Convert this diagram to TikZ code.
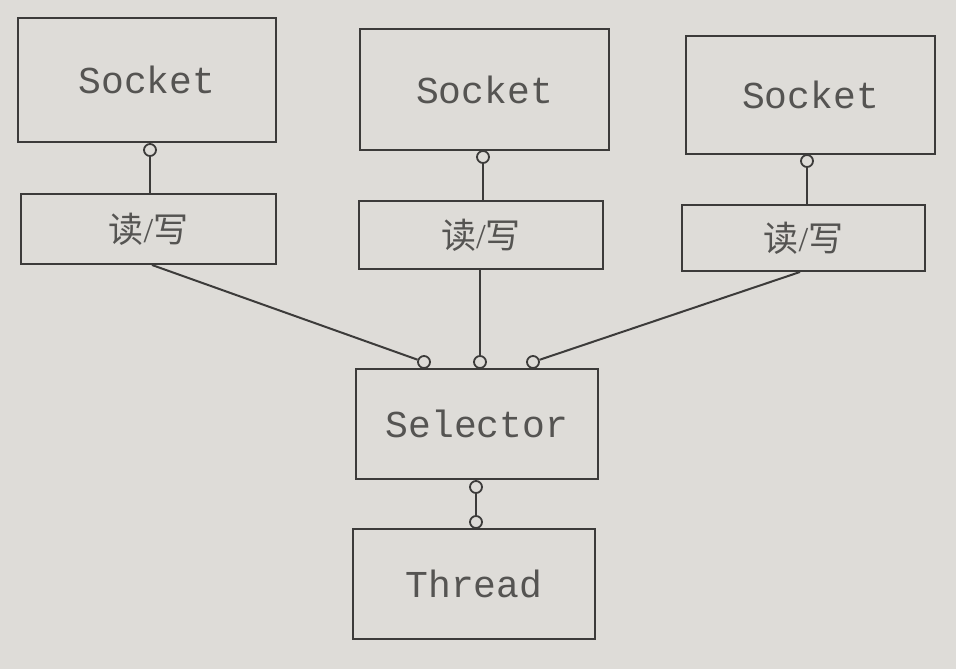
\documentclass[tikz,border=0pt]{standalone}
\usepackage{fontspec}
\setmonofont{Liberation Mono}
\setmainfont{Liberation Serif}
\newfontfamily\cjk{Noto Sans CJK SC}
\definecolor{bg}{HTML}{DEDCD8}
\definecolor{ink}{HTML}{3C3B3A}
\definecolor{txt}{HTML}{555452}
\begin{document}
\begin{tikzpicture}[x=1pt,y=-1pt,
  box/.style={draw=ink,line width=2pt,rectangle,inner sep=0pt,text=txt},
  mono/.style={font=\ttfamily\fontsize{38}{38}\selectfont},
  cn/.style={font=\fontsize{35}{35}\selectfont},
  port/.style={draw=ink,line width=1.8pt,circle,fill=bg,minimum size=12pt,inner sep=0pt},
  wire/.style={draw=ink,line width=2pt}]
\fill[bg] (0,0) rectangle (956,669);
\useasboundingbox (0,0) rectangle (956,669);
% sockets
\node[box,mono,minimum width=258pt,minimum height=123pt] (s1) at (147,80) {Socket};
\node[box,mono,minimum width=249pt,minimum height=121pt] (s2) at (484.5,89.5) {Socket};
\node[box,mono,minimum width=249pt,minimum height=118pt] (s3) at (810.5,95) {Socket};
% read/write
\node[box,cn,minimum width=255pt,minimum height=70pt] (r1) at (148.5,229) {{\cjk 读}{\rmfamily /}{\cjk 写}};
\node[box,cn,minimum width=244pt,minimum height=68pt] (r2) at (481,235) {{\cjk 读}{\rmfamily /}{\cjk 写}};
\node[box,cn,minimum width=243pt,minimum height=66pt] (r3) at (803.5,238) {{\cjk 读}{\rmfamily /}{\cjk 写}};
% selector, thread
\node[box,mono,minimum width=242pt,minimum height=110pt] (sel) at (477,424) {Selector};
\node[box,mono,minimum width=242pt,minimum height=110pt] (thr) at (474,584) {Thread};
% ports
\node[port] (p1) at (150,150) {};
\node[port] (p2) at (483,157) {};
\node[port] (p3) at (807,161) {};
\node[port] (q1) at (424,362) {};
\node[port] (q2) at (480,362) {};
\node[port] (q3) at (533,362) {};
\node[port] (t1) at (476,487) {};
\node[port] (t2) at (476,522) {};
% wires
\draw[wire] (p1.south) -- (p1.south |- r1.north);
\draw[wire] (p2.south) -- (p2.south |- r2.north);
\draw[wire] (p3.south) -- (p3.south |- r3.north);
\coordinate (b1) at (152,264);
\coordinate (b3) at (800,271);
\draw[wire] (r1.south -| b1) -- (q1);
\draw[wire] (q2.north) -- (q2.north |- r2.south);
\draw[wire] (r3.south -| b3) -- (q3);
\draw[wire] (t1.south) -- (t2.north);
\end{tikzpicture}
\end{document}
